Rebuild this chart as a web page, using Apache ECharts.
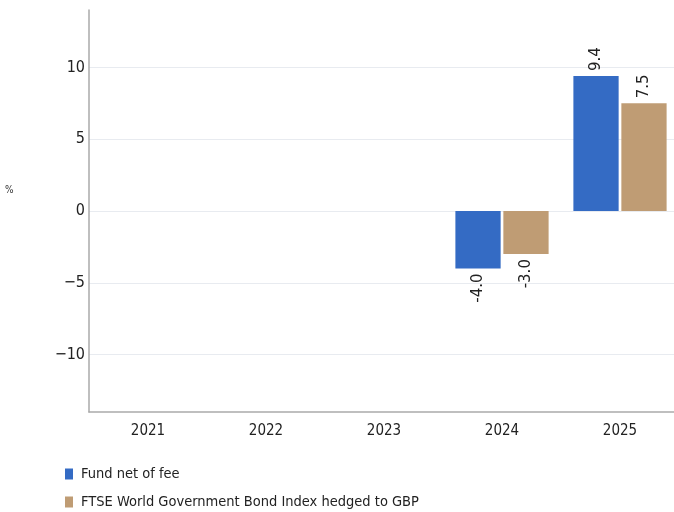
<!DOCTYPE html>
<html>
<head>
<meta charset="utf-8">
<script src="https://cdn.jsdelivr.net/npm/echarts@6/dist/echarts.min.js"></script>
<style>html,body{margin:0;padding:0;background:#fff;overflow:hidden;}#c{width:690px;height:512px;}</style>
</head>
<body>
<div id="c"></div>
<script>
const categories = ['2021', '2022', '2023', '2024', '2025'];
const fundNetOfFee = [null, null, null, -4.0, 9.4];
const ftseIndex = [null, null, null, -3.0, 7.5];
const seriesNames = ['Fund net of fee', 'FTSE World Government Bond Index hedged to GBP'];

const FONT = '"DejaVu Sans Condensed", "Liberation Sans Narrow", "Liberation Sans", Arial, sans-serif';
function makeData(arr) {
  return arr.map(v => {
    if (v === null) return null;
    return {
      value: v,
      label: v < 0
        ? { position: 'bottom', rotate: 90, align: 'right', verticalAlign: 'middle', distance: 5 }
        : { position: 'top', rotate: 90, align: 'left', verticalAlign: 'middle', distance: 5 }
    };
  });
}
const labelBase = {
  show: true,
  fontFamily: '"DejaVu Sans", Verdana, sans-serif',
  fontSize: 15,
  color: '#222',
  formatter: p => p.value.toFixed(1)
};
const chart = echarts.init(document.getElementById('c'), null, { renderer: 'canvas' });
chart.setOption({
  animation: false,
  backgroundColor: '#fff',
  grid: { left: 89, top: 10, width: 590, height: 402, containLabel: false },
  graphic: [{ type: 'text', left: 5, top: 185, style: { text: '%', fontSize: 10, fill: '#333', fontFamily: FONT } }],
  legend: {
    orient: 'vertical', left: 65, top: 466, padding: 0,
    itemWidth: 8, itemHeight: 11, itemGap: 12,
    icon: 'rect',
    textStyle: { fontFamily: FONT, fontSize: 14.5, color: '#222', lineHeight: 16, padding: [0, 0, 0, 3] },
    data: seriesNames
  },
  xAxis: {
    type: 'category',
    data: categories,
    axisLine: { onZero: false, lineStyle: { color: '#aaa', width: 1.5 } },
    axisTick: { show: false },
    axisLabel: { fontFamily: FONT, fontSize: 15, color: '#222', margin: 12 },
    splitLine: { show: false }
  },
  yAxis: {
    type: 'value',
    min: -14, max: 14,
    axisLine: { show: true, lineStyle: { color: '#aaa', width: 1.5 } },
    axisTick: { show: false },
    axisLabel: { fontFamily: FONT, fontSize: 16, color: '#222', margin: 4, showMinLabel: false, showMaxLabel: false,
      formatter: v => String(v).replace('-', '\u2212') },
    splitLine: { show: true, showMinLine: false, showMaxLine: false, lineStyle: { color: '#e8ebf0', width: 1 } }
  },
  series: [
    { name: seriesNames[0], type: 'bar', data: makeData(fundNetOfFee), itemStyle: { color: '#346bc4' }, barGap: '6%', barCategoryGap: '21%', label: labelBase },
    { name: seriesNames[1], type: 'bar', data: makeData(ftseIndex), itemStyle: { color: '#bf9c74' }, barGap: '6%', barCategoryGap: '21%', label: labelBase }
  ]
});
</script>
</body>
</html>
